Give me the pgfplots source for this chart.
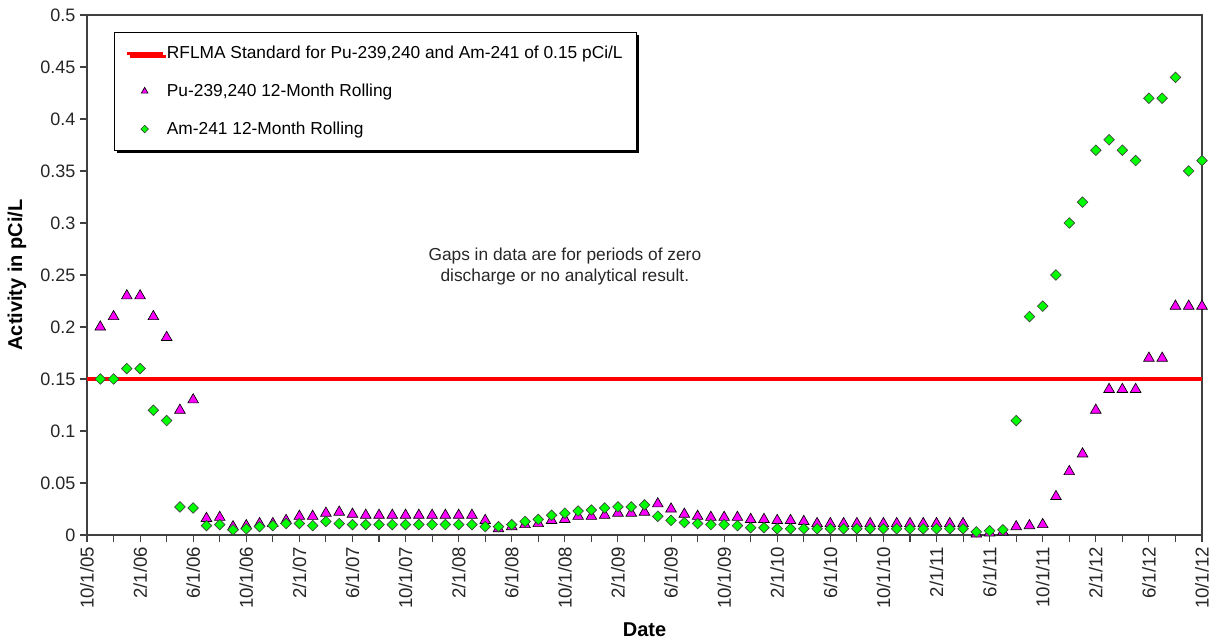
\documentclass[border=0pt]{standalone}
\usepackage{fontspec}
\setmainfont{Liberation Sans}
\usepackage{pgfplots}
\usepackage{pgfplotstable}
\pgfplotsset{compat=1.18}
\usetikzlibrary{shadows}

\definecolor{pumag}{RGB}{255,0,255}
\definecolor{amgreen}{RGB}{0,255,0}
\definecolor{axisgray}{RGB}{64,64,64}

\pgfplotsset{
  rflma key/.style={legend image code/.code={\draw[##1] (0pt,0pt) -- (27pt,0pt);}},
  pu key/.style={legend image code/.code={\draw[##1, mark size=2.9pt] plot coordinates {(13.5pt,0pt)};}},
  am key/.style={legend image code/.code={\draw[##1, mark size=2.0pt] plot coordinates {(13.5pt,0pt)};}},
}

% month index counted from 10/1/05; Pu-239,240 and Am-241 12-month rolling averages (pCi/L)
\pgfplotstableread{
m   pu     am
1   0.200  0.150
2   0.210  0.150
3   0.230  0.160
4   0.230  0.160
5   0.210  0.120
6   0.190  0.110
7   0.120  0.027
8   0.130  0.026
9   0.016  0.009
10  0.017  0.010
11  0.008  0.005
12  0.009  0.006
13  0.011  0.008
14  0.011  0.009
15  0.014  0.011
16  0.018  0.011
17  0.018  0.009
18  0.021  0.013
19  0.022  0.011
20  0.020  0.010
21  0.019  0.010
22  0.019  0.010
23  0.019  0.010
24  0.019  0.010
25  0.019  0.010
26  0.019  0.010
27  0.019  0.010
28  0.019  0.010
29  0.019  0.010
30  0.014  0.008
31  0.006  0.008
32  0.008  0.010
33  0.010  0.013
34  0.011  0.015
35  0.014  0.019
36  0.015  0.021
37  0.018  0.023
38  0.018  0.024
39  0.019  0.026
40  0.021  0.027
41  0.021  0.027
42  0.022  0.029
43  0.030  0.018
44  0.025  0.014
45  0.020  0.012
46  0.018  0.011
47  0.017  0.010
48  0.017  0.010
49  0.017  0.009
50  0.015  0.007
51  0.015  0.007
52  0.014  0.006
53  0.014  0.006
54  0.013  0.006
55  0.011  0.006
56  0.011  0.006
57  0.011  0.006
58  0.011  0.006
59  0.011  0.006
60  0.011  0.006
61  0.011  0.006
62  0.011  0.006
63  0.011  0.006
64  0.011  0.006
65  0.011  0.006
66  0.011  0.006
67  0.001  0.003
68  0.002  0.004
69  0.003  0.005
70  0.008  0.110
71  0.009  0.210
72  0.010  0.220
73  0.037  0.250
74  0.061  0.300
75  0.078  0.320
76  0.120  0.370
77  0.140  0.380
78  0.140  0.370
79  0.140  0.360
80  0.170  0.420
81  0.170  0.420
82  0.220  0.440
83  0.220  0.350
84  0.220  0.360
}\rolling

\begin{document}
\begin{tikzpicture}
\useasboundingbox (-65.25pt,-79.5pt) rectangle (853.5pt,401.25pt);
\begin{axis}[
  at={(0pt,0pt)}, anchor=south west,
  scale only axis, width=836.25pt, height=390pt,
  xmin=0, xmax=84, ymin=0, ymax=0.5,
  clip=false,
  axis line style={draw=axisgray, line width=0.9pt},
  tick style={draw=axisgray, line width=0.8pt},
  tick align=outside,
  xtick pos=bottom, ytick pos=left,
  major tick length=5.25pt, minor tick length=5.25pt,
  xtick={0,4,...,84},
  minor xtick={2,6,...,82},
  xticklabels={10/1/05,2/1/06,6/1/06,10/1/06,2/1/07,6/1/07,10/1/07,2/1/08,6/1/08,10/1/08,2/1/09,6/1/09,10/1/09,2/1/10,6/1/10,10/1/10,2/1/11,6/1/11,10/1/11,2/1/12,6/1/12,10/1/12},
  ytick={0,0.05,...,0.5},
  yticklabels={0,0.05,0.1,0.15,0.2,0.25,0.3,0.35,0.4,0.45,0.5},
  scaled y ticks=false,
  /pgf/number format/assume math mode=true,
  xticklabel style={rotate=90, anchor=east, font=\fontsize{14}{16}\selectfont, color=black!85},
  yticklabel style={font=\fontsize{13.5}{15}\selectfont, color=black!85},
  xlabel={Date},
  ylabel={Activity in pCi/L},
  xlabel style={at={(rel axis cs:0.5,0)}, anchor=center, yshift=-71.25pt, font=\bfseries\fontsize{15}{18}\selectfont},
  ylabel style={at={(rel axis cs:0,0.5)}, anchor=center, rotate=0, yshift=52.5pt, font=\bfseries\fontsize{15}{18}\selectfont},
  legend cell align=left,
  legend style={at={(0.0242,0.968)}, anchor=north west,
    draw=black, line width=0.6pt, fill=white,
    drop shadow={shadow xshift=2.2pt, shadow yshift=-2.2pt, fill=black, opacity=1},
    font=\fontsize{13}{15}\selectfont,
    inner xsep=8pt, inner ysep=8.5pt, row sep=13.5pt,
    /tikz/every even column/.append style={column sep=2pt}},
]
\addplot[red, line width=2.4pt, rflma key]
  coordinates {(0,0.15) (84,0.15)};
\addlegendentry{RFLMA Standard for Pu-239,240 and Am-241 of 0.15 pCi/L}
\addplot[only marks, mark=triangle*, mark size=4.6pt,
  mark options={fill=pumag, draw=black, line width=0.5pt}, pu key]
  table[x=m, y=pu] {\rolling};
\addlegendentry{Pu-239,240 12-Month Rolling}
\addplot[only marks, mark=square*, mark size=2.8pt,
  mark options={rotate=45, fill=amgreen, draw=black!75, line width=0.5pt}, am key]
  table[x=m, y=am] {\rolling};
\addlegendentry{Am-241 12-Month Rolling}
\node[align=center, font=\fontsize{13}{15.5}\selectfont, color=black!85] at (axis cs:36,0.258)
  {Gaps in data are for periods of zero\\discharge or no analytical result.};
\end{axis}
\end{tikzpicture}
\end{document}
